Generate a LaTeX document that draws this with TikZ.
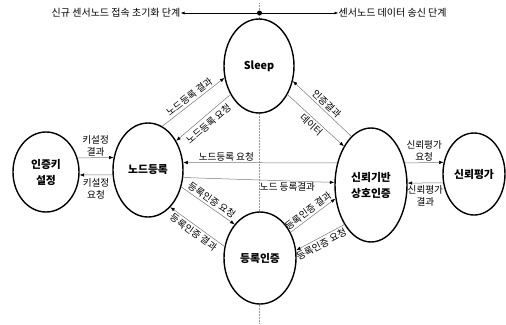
\documentclass[tikz,border=0pt]{standalone}
\usepackage{fontspec}
\setmainfont{Noto Sans CJK KR}
\usetikzlibrary{shapes.geometric,arrows.meta}
\definecolor{linegray}{RGB}{120,120,120}
\definecolor{guidegray}{RGB}{150,150,150}
\begin{document}
\begin{tikzpicture}[x=1pt,y=-1pt,
  state/.style={ellipse,draw=black,line width=1.4pt,fill=white,inner sep=0pt,align=center,font=\bfseries\fontsize{10.8}{16}\selectfont},
  flow/.style={draw=linegray,line width=0.5pt,-{Latex[color=black,length=4.5pt,width=3.5pt]}},
  lbl/.style={font=\fontsize{9.6}{11}\selectfont,inner sep=1pt},
  slbl/.style={font=\fontsize{9.6}{11}\selectfont,inner sep=2pt,sloped},
  lbltwo/.style={font=\fontsize{9.6}{12.5}\selectfont,inner sep=0pt,align=center},
  phase/.style={font=\fontsize{10}{12}\selectfont,inner sep=0pt},
  guide/.style={draw=guidegray,line width=0.5pt,densely dotted}]
\useasboundingbox (0,0) rectangle (506,324);
\coordinate (gtop) at (259.5,3);
\coordinate (gbot) at (259.5,324);
\coordinate (hub) at (259.5,13);
\draw[guide] (gtop) -- (gbot);

\node[state,minimum width=66pt,minimum height=80pt] (key) at (46,172) {인증키\\설정};
\node[state,minimum width=70pt,minimum height=94pt] (reg) at (148,170) {노드등록};
\node[state,minimum width=70pt,minimum height=94pt] (sleep) at (259,66) {Sleep};
\node[state,minimum width=72pt,minimum height=92pt] (auth) at (260,258) {등록인증};
\node[state,minimum width=72pt,minimum height=114pt] (trust) at (371,185) {신뢰기반\\상호인증};
\node[state,minimum width=62pt,minimum height=82pt] (eval) at (474,174) {신뢰평가};

\node[phase,anchor=east] (left) at (180.5,13) {신규 센서노드 접속 초기화 단계};
\node[phase,anchor=west] (right) at (338.5,13) {센서노드 데이터 송신 단계};
\draw[line width=0.8pt,{Latex[length=4pt,width=3pt]}-{Latex[length=4pt,width=3pt]}] (left.east) -- (right.west);
\fill (hub) circle (2.5pt);

\draw[flow] (key.24.4) -- (reg.160.4) node[lbltwo,midway,above=1pt] {키설정\\결과};
\draw[flow] (reg.188.2) -- (key.-5.2) node[lbltwo,midway,below=3pt] {키설정\\요청};
\draw[flow] (trust.147.1) -- (reg.12.9) node[lbl,pos=0.72,above] {노드등록 요청};
\draw[flow] (reg.-12.9) -- (trust.176.7) node[lbl,pos=0.69,below] {노드 등록결과};
\draw[flow] (reg.72.7) -- (sleep.199.9) node[slbl,midway,above] {노드등록 결과};
\draw[flow] (sleep.225) -- (reg.46) node[slbl,midway,below=1.5pt] {노드등록 요청};
\draw[flow] (trust.112) -- (sleep.-24.7) node[slbl,midway,above] {인증결과};
\draw[flow] (sleep.-45) -- (trust.125.5) node[slbl,midway,below] {데이터};
\draw[flow] (reg.-27.9) -- (auth.127.4) node[slbl,midway,above] {등록인증 요청};
\draw[flow] (auth.162.6) -- (reg.-59.9) node[slbl,midway,below] {등록인증 결과};
\draw[flow] (auth.40.9) -- (trust.201.2) node[slbl,pos=0.48,above] {등록인증 결과};
\draw[flow] (trust.236.3) -- (auth.12.2) node[slbl,pos=0.54,below] {등록인증 요청};
\draw[flow] (trust.33.5) -- (eval.159.8) node[lbltwo,midway,above=1pt] {신뢰평가\\요청};
\draw[flow] (eval.196.6) -- (trust.3.2) node[lbltwo,midway,below=2pt] {신뢰평가\\결과};
\end{tikzpicture}
\end{document}
